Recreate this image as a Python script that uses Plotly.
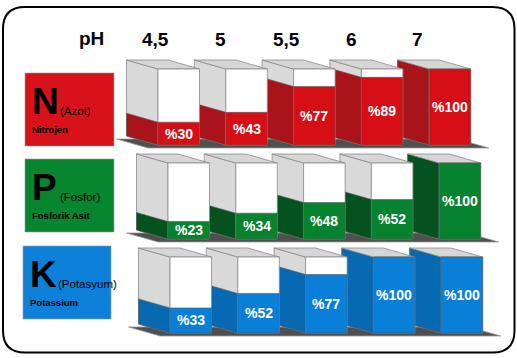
import plotly.graph_objects as go

# ---------------- data ----------------
ph_labels = ["4,5", "5", "5,5", "6", "7"]
header_label = "pH"
nutrient_letters = ["N", "P", "K"]
nutrient_names = ["(Azot)", "(Fosfor)", "(Potasyum)"]
nutrient_subtitles = ["Nitrojen", "Fosforik Asit", "Potassium"]
n_values = [30, 43, 77, 89, 100]
p_values = [23, 34, 48, 52, 100]
k_values = [33, 52, 77, 100, 100]
rows = [n_values, p_values, k_values]

# ---------------- style / layout ----------------
W, H = 517, 358
FONT = "Arial, 'Liberation Sans', sans-serif"
front_colors = ["#D60F17", "#07832F", "#0A7FD8"]
side_colors = ["#A9141A", "#05521E", "#0869B3"]
panel_colors = ["#D7121A", "#08852F", "#0D80DA"]
grey_side = "#D9D9D9"
grey_top = "#D6D6D6"
edge = "#8A8A8A"
floor_col = "#4F4F4F"

row_bottom = [145, 239, 333]
row_front_x0 = [158, 168, 170]
pitch = 67.8
box_w = 41.5
box_h = 76
dx, dy = -31.5, -9

panel_x0 = [25, 25, 23]
panel_x1 = [114, 114, 111]
panel_y0 = [73, 159, 246]
panel_y1 = [146, 232, 319]

header_x0 = 155
header_pitch = 65.6
header_y = 38


def path(pts):
    s = "M %.2f,%.2f " % pts[0]
    for p in pts[1:]:
        s += "L %.2f,%.2f " % p
    return s + "Z"


shapes = []
annotations = []


def poly(pts, fill, line=edge, lw=0.8):
    shapes.append(dict(type="path", path=path(pts), xref="x", yref="y",
                       fillcolor=fill, line=dict(color=line, width=lw),
                       layer="above"))


# frame with rounded corners
x0f, x1f, y0f, y1f, r = 3, 514.5, 7, 352.5, 22
frame = (f"M {x0f+r},{y0f} L {x1f-r},{y0f} Q {x1f},{y0f} {x1f},{y0f+r} "
         f"L {x1f},{y1f-r} Q {x1f},{y1f} {x1f-r},{y1f} "
         f"L {x0f+r},{y1f} Q {x0f},{y1f} {x0f},{y1f-r} "
         f"L {x0f},{y0f+r} Q {x0f},{y0f} {x0f+r},{y0f} Z")
shapes.append(dict(type="path", path=frame, xref="x", yref="y",
                   fillcolor="white", line=dict(color="black", width=2),
                   layer="below"))

# header
annotations.append(dict(x=91, y=header_y, text=f"<b>{header_label}</b>",
                        showarrow=False, font=dict(family=FONT, size=19, color="black"),
                        xanchor="center", yanchor="middle"))
for i, lab in enumerate(ph_labels):
    annotations.append(dict(x=header_x0 + i * header_pitch, y=header_y + 1,
                            text=f"<b>{lab}</b>", showarrow=False,
                            font=dict(family=FONT, size=19, color="black"),
                            xanchor="center", yanchor="middle"))

for r_i, vals in enumerate(rows):
    b = row_bottom[r_i]
    x0 = row_front_x0[r_i]
    top = b - box_h
    n = len(vals)
    # nutrient panel
    shapes.append(dict(type="rect", x0=panel_x0[r_i], x1=panel_x1[r_i],
                       y0=panel_y0[r_i], y1=panel_y1[r_i], xref="x", yref="y",
                       fillcolor=panel_colors[r_i],
                       line=dict(color="#9a9a9a", width=0.6), layer="above"))
    px = panel_x0[r_i]
    py = panel_y0[r_i]
    annotations.append(dict(x=px + 5, y=py + 28, text=f"<b>{nutrient_letters[r_i]}</b>",
                            showarrow=False, font=dict(family=FONT, size=37, color="black"),
                            xanchor="left", yanchor="middle"))
    annotations.append(dict(x=px + 33, y=py + 38, text=nutrient_names[r_i],
                            showarrow=False, font=dict(family=FONT, size=11.5, color="black"),
                            xanchor="left", yanchor="middle"))
    annotations.append(dict(x=px + 5, y=py + 56, text=f"<b>{nutrient_subtitles[r_i]}</b>",
                            showarrow=False, font=dict(family=FONT, size=9.5, color="black"),
                            xanchor="left", yanchor="middle"))

    # floor
    fl0 = x0 - 10
    fr0 = x0 + (n - 1) * pitch + box_w + 18
    poly([(fl0, b + 3), (fr0, b + 3), (fr0 + dx, b + 3 + dy), (fl0 + dx, b + 3 + dy)],
         floor_col, line="#9A9A9A", lw=0.8)

    # boxes, right to left so left boxes cover right boxes' sides
    for i in range(n - 1, -1, -1):
        v = vals[i]
        fl = x0 + i * pitch
        fr = fl + box_w
        lvl = b - box_h * v / 100.0
        # side face
        poly([(fl, b), (fl, top), (fl + dx, top + dy), (fl + dx, b + dy)], grey_side)
        poly([(fl, b), (fl, lvl), (fl + dx, lvl + dy), (fl + dx, b + dy)],
             side_colors[r_i], line="#5a5a5a", lw=0.6)
        # top face
        poly([(fl, top), (fr, top), (fr + dx, top + dy), (fl + dx, top + dy)], grey_top)
        # front face
        poly([(fl, top), (fr, top), (fr, b), (fl, b)], "white")
        poly([(fl, lvl), (fr, lvl), (fr, b), (fl, b)], front_colors[r_i],
             line="#5a5a5a", lw=0.6)
        annotations.append(dict(x=(fl + fr) / 2, y=(lvl + b) / 2, text=f"<b>%{v}</b>",
                                showarrow=False,
                                font=dict(family=FONT, size=14, color="white"),
                                xanchor="center", yanchor="middle"))

fig = go.Figure()
fig.add_trace(go.Scatter(x=[0, W], y=[0, H], mode="markers",
                         marker=dict(opacity=0), hoverinfo="skip"))
fig.update_layout(
    width=W, height=H, margin=dict(l=0, r=0, t=0, b=0),
    paper_bgcolor="white", plot_bgcolor="white", showlegend=False,
    xaxis=dict(range=[0, W], visible=False, fixedrange=True),
    yaxis=dict(range=[H, 0], visible=False, fixedrange=True),
    shapes=shapes, annotations=annotations,
)
fig.write_html(
    "out.html",
    config={"displayModeBar": False},
    post_script="document.body.style.margin='0';document.body.style.overflow='hidden';",
)
